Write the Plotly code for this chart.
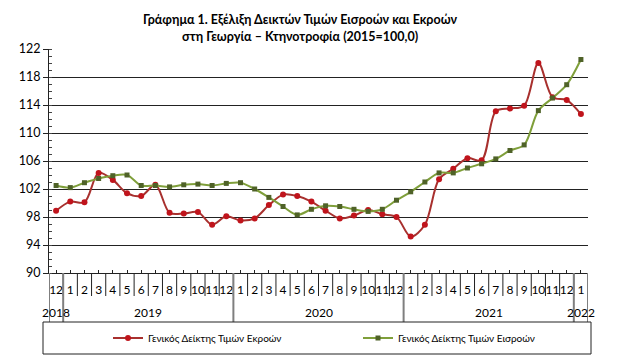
import plotly.graph_objects as go

months = ["12", "1", "2", "3", "4", "5", "6", "7", "8", "9", "10", "11", "12",
          "1", "2", "3", "4", "5", "6", "7", "8", "9", "10", "11", "12",
          "1", "2", "3", "4", "5", "6", "7", "8", "9", "10", "11", "12", "1"]
years = ["2018", "2019", "2020", "2021", "2022"]
year_counts = [1, 12, 12, 12, 1]

outputs = [98.9, 100.2, 100.1, 104.3, 103.3, 101.4, 101.0, 102.6, 98.6, 98.5,
           98.7, 96.9, 98.1, 97.5, 97.8, 99.7, 101.2, 101.0, 100.2, 98.9,
           97.8, 98.2, 99.0, 98.4, 98.0, 95.2, 96.9, 103.4, 104.9, 106.4,
           106.1, 113.1, 113.5, 113.9, 120.0, 115.1, 114.7, 112.7]
inputs = [102.5, 102.2, 102.9, 103.5, 103.9, 104.0, 102.5, 102.5, 102.3, 102.6,
          102.7, 102.5, 102.8, 102.9, 102.0, 100.8, 99.5, 98.3, 99.1, 99.6,
          99.5, 99.1, 98.8, 99.1, 100.4, 101.6, 103.0, 104.3, 104.3, 105.0,
          105.6, 106.3, 107.5, 108.3, 113.2, 115.0, 116.9, 120.5]

name_out = "Γενικός Δείκτης Τιμών Εκροών"
name_in = "Γενικός Δείκτης Τιμών Εισροών"
title_lines = ["Γράφημα 1. Εξέλιξη Δεικτών Τιμών Εισροών και Εκροών",
               "στη Γεωργία – Κτηνοτροφία (2015=100,0)"]

FONT = "Lato"
x = list(range(len(months)))

fig = go.Figure()
fig.add_trace(go.Scatter(
    x=x, y=outputs, name=name_out, mode="lines+markers",
    line=dict(color="#A8302E", width=2, shape="spline", smoothing=0.9),
    marker=dict(color="#C0141C", size=6, symbol="circle"),
))
fig.add_trace(go.Scatter(
    x=x, y=inputs, name=name_in, mode="lines+markers",
    line=dict(color="#7F9F3A", width=2, shape="spline", smoothing=0.9),
    marker=dict(color="#4F6228", size=5, symbol="square"),
))

W, H = 629, 361
L, R, T, B = 49, 41, 49, 88
plot_h = H - T - B
plot_w = W - L - R


def py(pix):
    return (H - B - pix) / plot_h


def px(pix):
    return (pix - L) / plot_w


shapes = []
# month separators below axis
for i in range(len(months) + 1):
    shapes.append(dict(type="line", xref="x", yref="paper", x0=i - 0.5, x1=i - 0.5,
                       y0=0, y1=py(296), line=dict(color="#222222", width=1)))
# year dividers
pos = -0.5
bounds = [pos]
for c in year_counts:
    pos += c
    bounds.append(pos)
for b in bounds:
    shapes.append(dict(type="line", xref="x", yref="paper", x0=b, x1=b,
                       y0=0, y1=py(322), line=dict(color="#7F7F7F", width=2)))
# legend box
shapes.append(dict(type="rect", xref="paper", yref="paper",
                   x0=px(43), x1=px(591), y0=py(322), y1=py(354),
                   line=dict(color="#222222", width=1)))

annotations = []
start = 0
for yr, c in zip(years, year_counts):
    annotations.append(dict(text=yr, xref="x", yref="paper", x=start + (c - 1) / 2,
                            y=py(312), showarrow=False, xanchor="center", yanchor="middle",
                            font=dict(family=FONT, size=12, color="#000000")))
    start += c
for ty, line in zip([19, 36], title_lines):
    annotations.append(dict(text="<b>" + line + "</b>", xref="paper", yref="paper",
                            x=px(300), y=py(ty), showarrow=False,
                            xanchor="center", yanchor="middle",
                            font=dict(family=FONT, size=12.5, color="#000000")))

fig.update_layout(
    width=W, height=H,
    margin=dict(l=L, r=R, t=T, b=B, pad=0, autoexpand=False),
    paper_bgcolor="white", plot_bgcolor="white",
    font=dict(family=FONT, size=12, color="#000000"),
    showlegend=True,
    legend=dict(orientation="h", xref="container", yref="container",
                x=108 / W, y=(H - 338) / H,
                xanchor="left", yanchor="middle", font=dict(family=FONT, size=10),
                itemwidth=30, entrywidth=205, bgcolor="rgba(0,0,0,0)", borderwidth=0),
    shapes=shapes, annotations=annotations,
)
fig.update_xaxes(
    range=[-0.5, len(months) - 0.5], tickmode="array", tickvals=x, ticktext=months,
    tickangle=0, automargin=False,
    ticks="inside", ticklen=3, tickcolor="#222222", showgrid=False,
    showline=True, linecolor="#222222", linewidth=1, zeroline=False,
    tickfont=dict(family=FONT, size=12), ticklabelstandoff=6,
)
fig.update_yaxes(
    range=[90, 122], dtick=4, tick0=90, showgrid=True, gridcolor="#222222", gridwidth=1,
    automargin=False,
    ticks="outside", ticklen=5, tickcolor="#222222",
    showline=True, linecolor="#222222", linewidth=1, zeroline=False,
    minor=dict(dtick=1, ticks="inside", ticklen=3, tickcolor="#444444", showgrid=False),
    tickfont=dict(family=FONT, size=12.5),
)

fig.write_html("out.html", config={"displayModeBar": False},
               post_script="document.body.style.margin='0';")
